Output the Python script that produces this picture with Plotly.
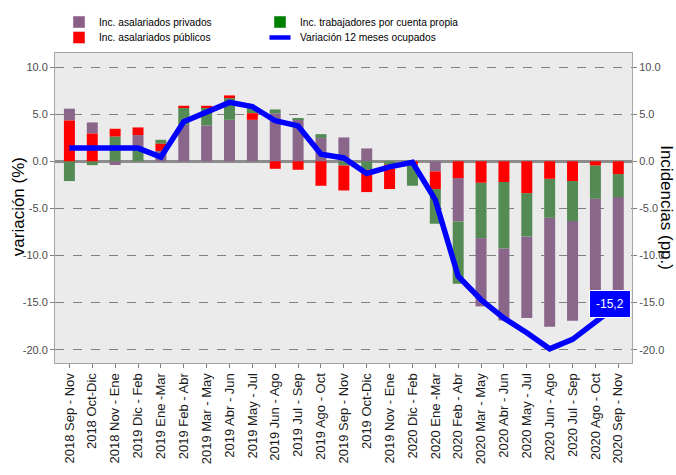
import plotly.graph_objects as go

categories = ["2018 Sep - Nov", "2018 Oct-Dic", "2018 Nov - Ene", "2019 Dic - Feb", "2019 Ene -Mar",
              "2019 Feb - Abr", "2019 Mar - May", "2019 Abr - Jun", "2019 May - Jul", "2019 Jun - Ago",
              "2019 Jul - Sep", "2019 Ago - Oct", "2019 Sep - Nov", "2019 Oct-Dic", "2019 Nov - Ene",
              "2020 Dic - Feb", "2020 Ene -Mar", "2020 Feb - Abr", "2020 Mar - May", "2020 Abr - Jun",
              "2020 May - Jul", "2020 Jun - Ago", "2020 Jul - Sep", "2020 Ago - Oct", "2020 Sep - Nov"]

privados = [1.25, 1.17, -0.40, 1.33, 1.10, 3.87, 3.80, 4.40, 4.40, 5.10, 4.47, 2.46, 2.53, 1.36, 0.0,
            0.0, -1.08, -4.60, -7.24, -7.65, -8.65, -11.57, -10.58, -11.50, -10.70]
publicos = [4.33, 2.95, 0.82, 0.81, 0.76, 0.24, 0.14, 0.29, 0.70, -0.80, -0.90, -2.60, -2.65, -2.37, -2.60,
            -0.37, -1.87, -1.79, -2.28, -2.20, -3.38, -1.86, -2.10, -0.44, -1.36]
cuenta_propia = [-2.10, -0.41, 2.63, 1.45, 0.42, 1.78, 1.95, 2.30, 0.55, 0.40, 0.05, 0.42, -0.45, -0.90, -0.35,
                 -2.23, -3.68, -6.61, -5.88, -7.05, -4.60, -4.14, -4.25, -3.54, -2.44]
variacion = [1.40, 1.35, 1.40, 1.40, 0.45, 4.20, 5.30, 6.25, 5.80, 4.30, 3.75, 0.75, 0.35, -1.30, -0.60,
             -0.10, -4.10, -12.20, -14.70, -16.65, -18.20, -19.90, -18.90, -17.00, -15.20]

y_ticks = [10, 5, 0, -5, -10, -15, -20]
y_tick_labels = ["10.0", "5.0", "0.0", "-5.0", "-10.0", "-15.0", "-20.0"]
last_label = "-15,2"

names = ["Inc. asalariados privados", "Inc. trabajadores por cuenta propia", "Inc. asalariados públicos"]
values = [privados, cuenta_propia, publicos]
bar_colors = ["#8B668B", "#548B54", "#FF0000"]
legend_colors = ["#8B5E85", "#008000", "#FF0000"]
legend_ids = ["legend", "legend2", "legend3"]
line_name = "Variación 12 meses ocupados"

n = len(categories)
bases = [[0.0] * n for _ in values]
for i in range(n):
    vals = [(values[k][i], k) for k in range(len(values))]
    pos = sorted([v for v in vals if v[0] > 0], reverse=True)
    neg = sorted([v for v in vals if v[0] < 0], reverse=True)
    acc = 0.0
    for v, k in pos:
        bases[k][i] = acc
        acc += v
    acc = 0.0
    for v, k in neg:
        bases[k][i] = acc
        acc += v

fig = go.Figure()
FONT = "Liberation Sans, Arial, sans-serif"

for k in range(len(values)):
    fig.add_trace(go.Bar(x=categories, y=values[k], base=bases[k], width=0.48,
                         marker=dict(color=bar_colors[k], line=dict(width=0)),
                         showlegend=False, name=names[k]))

fig.add_trace(go.Scatter(x=categories, y=variacion, mode="lines",
                         line=dict(color="#0000FF", width=5.5), showlegend=False))

# legend entries
for k in range(len(values)):
    fig.add_trace(go.Bar(x=[categories[0]], y=[None], name=names[k],
                         marker=dict(color=legend_colors[k]), legend=legend_ids[k]))
fig.add_trace(go.Scatter(x=[categories[0]], y=[None], mode="markers", name=line_name,
                         marker=dict(symbol="line-ew-open", size=15, color="#0000FF",
                                     line=dict(color="#0000FF", width=4.5)),
                         legend="legend4"))

# invisible trace for right axis
fig.add_trace(go.Scatter(x=categories, y=variacion, yaxis="y2", mode="lines",
                         line=dict(width=0), opacity=0, showlegend=False, hoverinfo="skip"))

fig.add_annotation(x=categories[-1], y=variacion[-1], text=last_label, showarrow=False,
                   xshift=-8, bgcolor="#0000FF", bordercolor="#FFFFFF", borderwidth=1, borderpad=6,
                   font=dict(color="#FFFFFF", size=12, family=FONT))

# axis titles
fig.add_annotation(x=-0.0641, y=0.5026, xref="paper", yref="paper", text="variación (%)",
                   textangle=-90, showarrow=False, xanchor="center", yanchor="middle",
                   font=dict(size=17, color="#000000", family=FONT))
fig.add_annotation(x=(667 - 55) / 577, y=0.5026, xref="paper", yref="paper", text="Incidencias (pp.)",
                   textangle=90, showarrow=False, xanchor="center", yanchor="middle",
                   font=dict(size=17, color="#000000", family=FONT))

LEG_FONT = dict(family=FONT, size=10.2, color="#000000")
def leg(x, y):
    return dict(orientation="h", x=x, y=y, xref="container", yref="container",
                xanchor="left", yanchor="top", bgcolor="rgba(0,0,0,0)", font=LEG_FONT)

yrange = [-21.41, 11.49]
fig.update_layout(
    width=676, height=475,
    margin=dict(l=55, r=44, t=53, b=112, autoexpand=False),
    paper_bgcolor="#FFFFFF", plot_bgcolor="#EBEBEB",
    barmode="overlay",
    font=dict(family=FONT, color="#000000"),
    legend=leg(59 / 676, 1 - 7.5 / 475),
    legend2=leg(260 / 676, 1 - 7.5 / 475),
    legend3=leg(59 / 676, 1 - 23 / 475),
    legend4=leg(260 / 676, 1 - 23 / 475),
    xaxis=dict(type="category", range=[-0.63, 24.6], showgrid=False, tickangle=-90,
               ticks="outside", ticklen=4, tickcolor="#7F7F7F", automargin=False,
               tickfont=dict(size=13, color="#1A1A1A", family=FONT),
               showline=True, mirror=True, linecolor="#A6A6A6", linewidth=1),
    yaxis=dict(range=yrange, tickvals=y_ticks, ticktext=y_tick_labels, automargin=False,
               showgrid=True, gridcolor="#808080", griddash="dash", gridwidth=1.2,
               zeroline=True, zerolinecolor="#8C8C8C", zerolinewidth=2.5,
               ticks="outside", ticklen=4, tickcolor="#7F7F7F",
               tickfont=dict(size=11, color="#4D4D4D", family=FONT),
               showline=True, mirror=True, linecolor="#A6A6A6", linewidth=1),
    yaxis2=dict(range=yrange, overlaying="y", side="right", tickvals=y_ticks, ticktext=y_tick_labels,
                showgrid=False, zeroline=False, automargin=False,
                ticks="outside", ticklen=4, tickcolor="#7F7F7F",
                tickfont=dict(size=11, color="#4D4D4D", family=FONT)),
)

fig.write_html("out.html", config={"displayModeBar": False},
               post_script="document.body.style.margin='0';document.body.style.padding='0';")
